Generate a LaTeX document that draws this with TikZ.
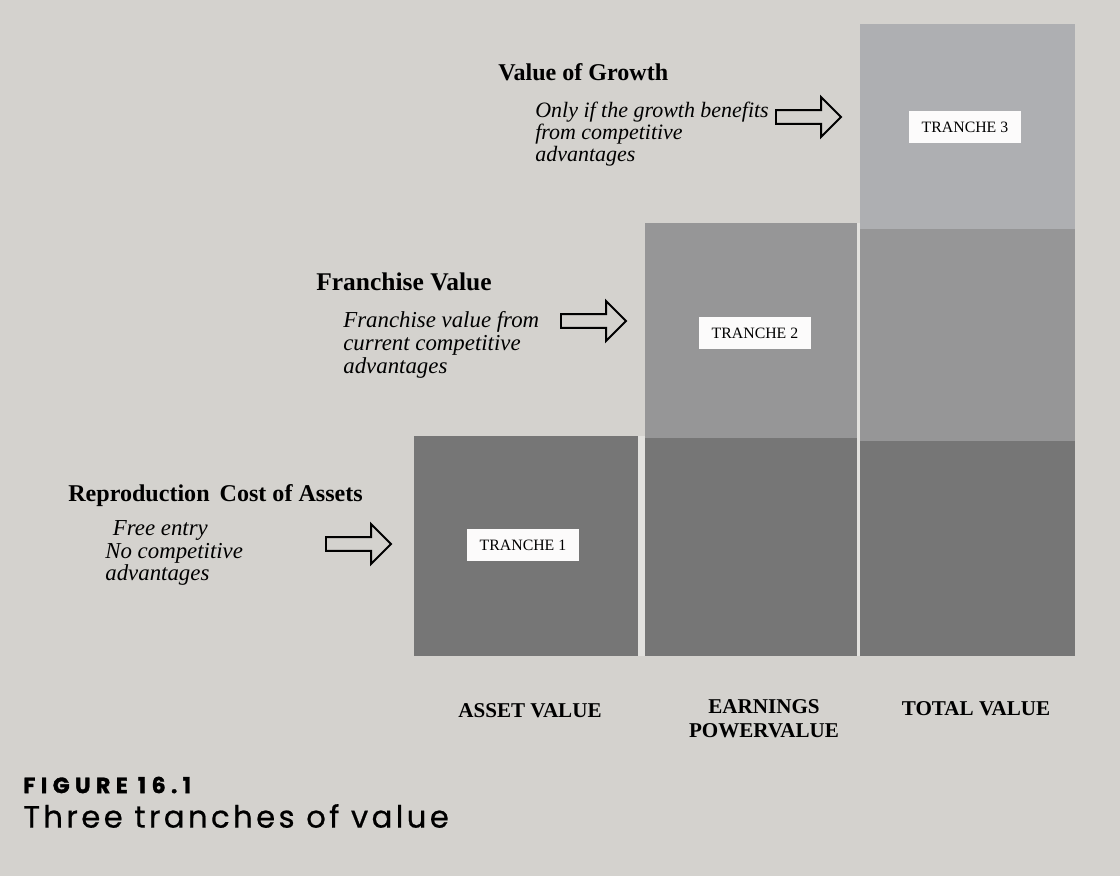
\documentclass[tikz,border=0pt]{standalone}
\usepackage{fontspec}
\setmainfont{Liberation Serif}
\newfontfamily\figfont[LetterSpace=25, BoldFeatures={FakeBold=1.6}]{Poppins}
\newfontfamily\capfont[LetterSpace=11, FakeBold=0.6]{Poppins}
\usepackage{tikz}
\usetikzlibrary{shapes.arrows}

\definecolor{paper}{RGB}{212,210,206}
\definecolor{gap}{RGB}{226,225,222}
\definecolor{darkgrey}{RGB}{118,118,118}
\definecolor{midgrey}{RGB}{150,150,151}
\definecolor{lightgrey}{RGB}{174,175,178}

\begin{document}
\begin{tikzpicture}[x=0.02cm, y=-0.02cm,
    heading/.style={font=\fontsize{13.7}{15}\selectfont\bfseries, anchor=west, inner sep=0},
    note/.style={font=\fontsize{13}{13}\selectfont\itshape, anchor=north west, align=left, inner sep=0},
    tranche/.style={fill=white!92!paper, font=\fontsize{9}{10}\selectfont, inner xsep=7pt, inner ysep=6pt},
    colname/.style={font=\fontsize{12}{13.5}\selectfont\bfseries, align=center, inner sep=0},
    hollow/.style={single arrow, draw, line width=1.1pt, fill=paper, inner xsep=0, inner ysep=3.4pt,
      minimum height=37pt, single arrow head extend=7.4pt}]
  \fill[paper] (0,0) rectangle (1120,876);
  \useasboundingbox (0,0) rectangle (1120,876);

  % the three columns, bottom to top
  \coordinate (A) at (414, 656);
  \coordinate (B) at (645, 656);
  \coordinate (C) at (860, 656);
  \fill[gap] (638,436) rectangle (645,656);
  \fill[gap] (857,223) rectangle (860,656);
  \fill[darkgrey] (A) rectangle (638, 436);
  \fill[darkgrey] (B) rectangle (857, 438);
  \fill[midgrey] (645, 438) rectangle (857, 223);
  \fill[darkgrey] (C) rectangle (1075, 441);
  \fill[midgrey] (860, 441) rectangle (1075, 229);
  \fill[lightgrey] (860, 229) rectangle (1075, 24);

  \node[tranche] (T1) at (523, 545) {TRANCHE 1};
  \node[tranche] (T2) at (755, 333) {TRANCHE 2};
  \node[tranche] (T3) at (965, 127) {TRANCHE 3};

  % left hand notes
  \node[heading] (H1) at (68, 496) {Reproduction\, Cost of Assets};
  \node[note] (N1) at (105, 520) {\,\,Free entry\\No competitive\\advantages};
  \node[hollow] (R1) at (355, 544) {};

  \node[heading, font=\fontsize{14.5}{15}\selectfont\bfseries] (H2) at (316, 282) {Franchise Value};
  \node[note] (N2) at (343, 311) {Franchise value from\\current competitive\\advantages};
  \node[hollow] (R2) at (590, 321) {};

  \node[heading] (H3) at (498, 72) {Value of Growth};
  \node[note, font=\fontsize{12.5}{11.2}\selectfont\itshape] (N3) at (535, 102) {Only if the growth benefits\\from competitive\\advantages};
  \node[hollow] (R3) at (805, 117) {};

  % column names
  \node[colname] (L1) at (530, 711) {ASSET VALUE};
  \node[colname] (L2) at (764, 719) {EARNINGS\\POWERVALUE};
  \node[colname] (L3) at (976, 709) {TOTAL VALUE};

  % caption
  \node[anchor=west, inner sep=0, font=\figfont\fontsize{12.5}{14}\selectfont\bfseries] (F) at (23, 785) {FIGURE 16.1};
  \node[anchor=west, inner sep=0, font=\capfont\fontsize{17.5}{19}\selectfont] (cap) at (23, 816) {Three tranches of value};
\end{tikzpicture}
\end{document}
